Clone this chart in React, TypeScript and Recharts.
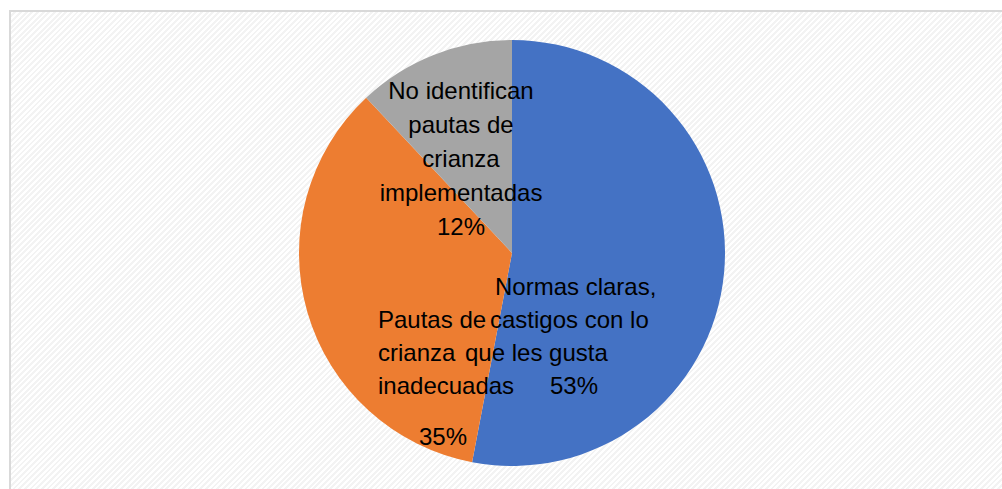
import React from 'react';
import { PieChart, Pie, Cell } from 'recharts';

const categories = [
  'Normas claras, castigos con lo que les gusta',
  'Pautas de crianza inadecuadas',
  'No identifican pautas de crianza implementadas',
];
const shares = [53, 35, 12];
const labelLines = [
  ['Normas claras,', 'castigos con lo', 'que les gusta'],
  ['Pautas de', 'crianza', 'inadecuadas'],
  ['No identifican', 'pautas de', 'crianza', 'implementadas'],
];
const sliceColors = ['#4472C4', '#ED7D31', '#A5A5A5'];

const data = categories.map((name, i) => ({ name, value: shares[i] }));

// label placement, offsets from the pie centre (Excel put these by hand)
const LABEL_LAYOUT = [
  { anchor: 'start', xs: [-17, -22, -47, 38], ys: [42, 75, 108, 141] },
  { anchor: 'start', xs: [-134, -134, -134, -93], ys: [75, 108, 141, 192] },
  { anchor: 'middle', xs: [-51, -51, -51, -51, -51], ys: [-154, -120, -86, -52, -18] },
];

const renderLabel = (props: any) => {
  const { cx, cy, index } = props;
  const layout = LABEL_LAYOUT[index];
  const lines = [...labelLines[index], `${shares[index]}%`];
  return (
    <text
      key={`lbl-${index}`}
      fill="#000"
      fontSize={24}
      fontFamily="'Liberation Sans', Arial, sans-serif"
      textAnchor={layout.anchor}
    >
      {lines.map((line, j) => (
        <tspan key={j} x={cx + layout.xs[j]} y={cy + layout.ys[j]}>
          {line}
        </tspan>
      ))}
    </text>
  );
};

export default function App() {
  return (
    <div
      style={{
        position: 'absolute',
        left: 0,
        top: 0,
        width: 1002,
        height: 489,
        background: '#fff',
        overflow: 'hidden',
      }}
    >
      <div
        style={{
          position: 'absolute',
          left: 9,
          top: 10,
          width: 1010,
          height: 500,
          border: '2px solid #d9d9d9',
          boxSizing: 'border-box',
          background:
            'repeating-linear-gradient(-45deg, #ffffff 0px, #ffffff 2px, #f3f3f3 2px, #f3f3f3 4px)',
        }}
      />
      <div style={{ position: 'absolute', left: 0, top: 0 }}>
        <PieChart width={1002} height={489} margin={{ top: 0, right: 0, bottom: 0, left: 0 }}>
          <Pie
            data={data}
            dataKey="value"
            nameKey="name"
            cx={512}
            cy={253}
            outerRadius={213}
            startAngle={90}
            endAngle={-270}
            stroke="none"
            labelLine={false}
            label={renderLabel}
            isAnimationActive={false}
          >
            {data.map((entry, i) => (
              <Cell key={`cell-${i}`} fill={sliceColors[i]} />
            ))}
          </Pie>
        </PieChart>
      </div>
    </div>
  );
}
